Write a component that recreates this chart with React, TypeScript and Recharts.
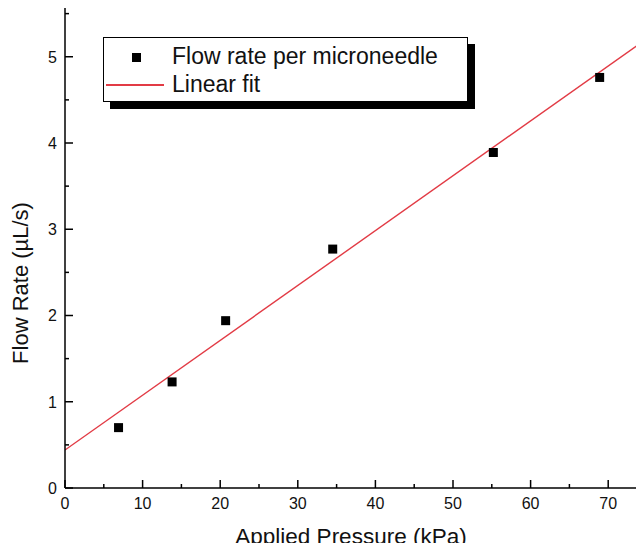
import React from "react";
import {
  ComposedChart,
  Line,
  Scatter,
  XAxis,
  YAxis,
  Legend,
} from "recharts";

// measured flow rate per microneedle vs applied pressure
const pressure = [6.9, 13.8, 20.7, 34.5, 55.2, 68.9];
const flowRate = [0.7, 1.23, 1.94, 2.77, 3.89, 4.76];

// linear fit end points
const fitX = [0, 75];
const fitY = [0.44, 5.21];

const xTicks = [0, 5, 10, 15, 20, 25, 30, 35, 40, 45, 50, 55, 60, 65, 70, 75];
const yTicks = [0, 0.5, 1, 1.5, 2, 2.5, 3, 3.5, 4, 4.5, 5, 5.5];

const points = pressure.map((x, i) => ({ x, y: flowRate[i] }));
const fitLine = fitX.map((x, i) => ({ x, y: fitY[i] }));

const FONT = "'Liberation Sans', Arial, sans-serif";
const RED = "#e23b45";

const XTick = (props: any) => {
  const { x, y, payload } = props;
  const ay = y - 8; // tickSize 6 + tickMargin 2
  const major = payload.value % 10 === 0;
  return (
    <g>
      <line x1={x} x2={x} y1={ay} y2={ay - (major ? 8 : 4)} stroke="#000" strokeWidth={1.5} />
      {major && (
        <text x={x} y={ay + 10} dy="0.71em" textAnchor="middle" fontSize={16} fontFamily={FONT} fill="#111">
          {payload.value}
        </text>
      )}
    </g>
  );
};

const YTick = (props: any) => {
  const { x, y, payload } = props;
  const ax = x + 8;
  const major = Number.isInteger(payload.value);
  return (
    <g>
      <line x1={ax} x2={ax + (major ? 8 : 4)} y1={y} y2={y} stroke="#000" strokeWidth={1.5} />
      {major && (
        <text x={ax - 8} y={y} dy="0.36em" textAnchor="end" fontSize={16} fontFamily={FONT} fill="#111">
          {payload.value}
        </text>
      )}
    </g>
  );
};

const Square = (p: any) => (
  <rect x={p.cx - 4.5} y={p.cy - 4.5} width={9} height={9} fill="#000" />
);

const LegendBox = () => (
  <div
    style={{
      width: 363,
      height: 63,
      border: "1.5px solid #000",
      boxShadow: "7px 7px 0 #000",
      background: "#fff",
      fontFamily: FONT,
      fontSize: 23,
      color: "#111",
      position: "relative",
    }}
  >
    <div style={{ position: "absolute", left: 28, top: 15, width: 9, height: 9, background: "#000" }} />
    <div style={{ position: "absolute", left: 68, top: 5, lineHeight: "26px" }}>Flow rate per microneedle</div>
    <div style={{ position: "absolute", left: 2, top: 46, width: 58, height: 1.5, background: RED }} />
    <div style={{ position: "absolute", left: 68, top: 33, lineHeight: "26px" }}>Linear fit</div>
  </div>
);

export default function App() {
  return (
    <div style={{ margin: -8, width: 644, height: 551, overflow: "hidden", background: "#fff", position: "relative" }}>
      <ComposedChart width={660} height={551} margin={{ top: 5, right: 13, bottom: 0, left: 0 }}>
        <XAxis
          type="number"
          dataKey="x"
          domain={[0, 75]}
          ticks={xTicks}
          interval={0}
          height={63}
          tickSize={6}
          tickMargin={2}
          tickLine={false}
          tick={<XTick />}
          axisLine={{ stroke: "#000", strokeWidth: 1.5 }}
          allowDataOverflow
          label={{
            content: () => (
              <text x={351} y={544} textAnchor="middle" fontSize={22.5} fontFamily={FONT} fill="#111">
                Applied Pressure (kPa)
              </text>
            ),
          }}
        />
        <YAxis
          type="number"
          domain={[0, 5.6]}
          ticks={yTicks}
          interval={0}
          width={65}
          tickSize={6}
          tickMargin={2}
          tickLine={false}
          tick={<YTick />}
          axisLine={{ stroke: "#000", strokeWidth: 1.5 }}
          allowDataOverflow
          label={{
            content: () => (
              <text
                x={28}
                y={283}
                transform="rotate(-90 28 283)"
                textAnchor="middle"
                fontSize={22}
                fontFamily={FONT}
                fill="#111"
              >
                Flow Rate (µL/s)
              </text>
            ),
          }}
        />
        <Legend
          content={<LegendBox />}
          wrapperStyle={{ position: "absolute", top: 37, left: 103, width: 0, height: 0, overflow: "visible" }}
        />
        <Line
          data={fitLine}
          dataKey="y"
          type="linear"
          stroke={RED}
          strokeWidth={1.4}
          dot={false}
          isAnimationActive={false}
          name="Linear fit"
        />
        <Scatter data={points} dataKey="y" shape={<Square />} isAnimationActive={false} name="Flow rate per microneedle" />
      </ComposedChart>
    </div>
  );
}
